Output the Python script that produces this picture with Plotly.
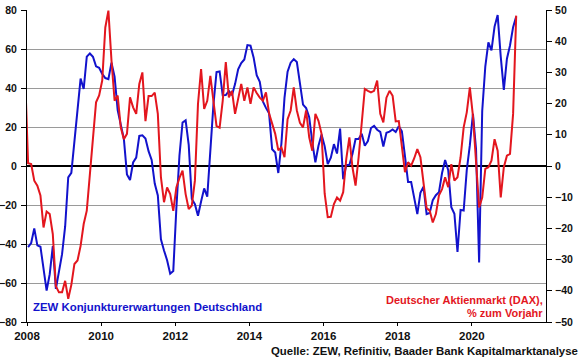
import numpy as np
import plotly.graph_objects as go

# ZEW Konjunkturerwartungen Deutschland, monthly Jan 2008 .. Mar 2021 (left axis)
zew = [
    -41.6, -39.5, -32.0, -40.7, -41.4, -52.4, -63.9, -55.5, -41.1, -63.0, -53.5, -45.2,
    -31.0, -5.8, -3.5, 13.0, 31.1, 44.8, 39.5, 56.1, 57.7, 56.0, 51.1, 50.4,
    47.2, 45.1, 44.5, 53.0, 45.8, 28.7, 21.2, 14.0, -4.3, -7.2, 1.8, 4.3,
    15.4, 15.7, 14.1, 7.6, 3.1, -9.0, -15.1, -37.6, -43.3, -48.3, -55.2, -53.8,
    -21.6, 5.4, 22.3, 23.4, 10.8, -16.9, -19.6, -25.5, -18.2, -11.5, -15.7, 6.9,
    31.5, 48.2, 48.5, 36.3, 36.4, 38.5, 36.3, 42.0, 49.6, 52.8, 54.6, 62.0,
    61.7, 55.7, 46.6, 43.2, 33.1, 29.8, 27.1, 8.6, 6.9, -3.6, 11.5, 34.9,
    48.4, 53.0, 54.8, 53.3, 41.9, 31.5, 29.7, 25.0, 12.1, 1.9, 10.4, 16.1,
    10.2, 1.0, 4.3, 11.2, 6.4, 19.2, -6.8, 0.5, 0.5, 6.2, 13.8, 13.8,
    16.6, 10.4, 12.8, 19.5, 20.6, 18.6, 17.5, 10.0, 17.0, 17.6, 18.7, 17.4,
    20.4, 17.8, 5.1, -8.2, -8.2, -16.1, -24.7, -13.7, -10.6, -24.7, -24.1, -17.5,
    -15.0, -13.4, -3.6, 3.1, -2.1, -21.1, -24.5, -44.1, -22.5, -22.8, -2.1, 10.7,
    26.7, 8.7, -49.5, 28.2, 51.0, 63.4, 59.3, 71.5, 77.4, 56.1, 39.0, 55.0,
    61.8, 71.2, 76.6,
]

# Deutscher Aktienmarkt (DAX), % zum Vorjahr, monthly Dec 2007 .. Mar 2021 (right axis)
dax = [
    30.0,
    0.9, 0.6, -4.7, -6.3, -9.4, -19.7, -14.6, -15.4, -21.8, -38.5, -40.5, -40.5,
    -36.8, -42.6, -38.1, -31.4, -30.3, -25.6, -18.6, -14.3, -2.6, 8.1, 20.4, 22.6,
    27.4, 44.4, 49.8, 33.8, 20.9, 22.6, 12.4, 8.6, 10.3, 22.0, 18.8, 16.7,
    26.3, 30.0, 14.4, 22.4, 22.4, 23.5, 16.7, -3.6, -11.6, -6.9, -9.0, -14.4,
    -6.9, -3.8, -1.5, -9.0, -13.8, -12.7, -4.7, 19.9, 31.1, 18.3, 20.9, 28.9,
    20.6, 12.8, 12.3, 20.9, 33.3, 22.0, 24.1, 16.7, 21.5, 26.3, 20.9, 25.2,
    19.9, 25.2, 23.4, 21.9, 20.9, 23.6, 16.9, 13.8, 10.3, 5.0, 6.0, 2.8,
    15.0, 17.8, 25.2, 17.8, 13.8, 12.4, 17.8, 9.2, 4.9, 16.7, 14.5, 10.3,
    -8.8, -16.4, -16.3, -12.2, -10.1, -11.1, -8.4, 2.3, 9.2, -0.4, -6.3, 2.8,
    14.5, 24.7, 24.1, 23.6, 24.1, 27.4, 16.7, 14.0, 21.9, 24.1, 22.5, 14.3,
    14.4, 7.1, -2.0, 1.2, 0.1, 2.5, 5.4, 2.8, -5.3, -13.5, -14.3, -18.1,
    -15.4, -9.4, -7.4, -3.6, -6.8, 0.6, -4.7, -3.6, 2.8, 12.4, 17.2, 25.2,
    16.1, -0.4, -13.3, -10.1, -0.9, -0.4, 1.7, 8.6, 4.9, -10.1, -0.4, 3.3,
    3.9, 16.7, 48.2,
]

year_ticks = [2008, 2010, 2012, 2014, 2016, 2018, 2020]
left_ticks = list(range(-80, 81, 20))
right_ticks = list(range(-50, 51, 10))

# month positions (fractional years)
x_zew = 2008 + (np.arange(len(zew)) + 0.35) / 12.0
x_dax = 2008 + (np.arange(len(dax)) - 1 + 0.35) / 12.0

BLUE = "#1212cc"
RED = "#e3161e"
FONT = "Liberation Sans"

fig = go.Figure()
fig.add_trace(go.Scatter(x=x_zew, y=zew, mode="lines",
                         line=dict(color=BLUE, width=2), yaxis="y",
                         name="ZEW Konjunkturerwartungen Deutschland"))
fig.add_trace(go.Scatter(x=x_dax, y=dax, mode="lines",
                         line=dict(color=RED, width=2), yaxis="y2",
                         name="Deutscher Aktienmarkt (DAX), % zum Vorjahr"))

ytickfont = dict(family=FONT, size=10.5, color="#111111", weight="bold")
xtickfont = dict(family=FONT, size=11.5, color="#111111", weight="bold")

fig.update_layout(
    width=580, height=359,
    margin=dict(l=27, r=34, t=10, b=37),
    paper_bgcolor="white", plot_bgcolor="white",
    showlegend=False,
    xaxis=dict(range=[2008, 2022], tickvals=year_ticks,
               ticktext=[str(v) for v in year_ticks],
               showgrid=False, zeroline=False, automargin=False,
               showline=True, linecolor="black", linewidth=1,
               ticks="outside", ticklen=3, tickcolor="black",
               ticklabelstandoff=0, tickfont=xtickfont),
    yaxis=dict(range=[-80, 80], tickvals=left_ticks, automargin=False,
               showgrid=True, gridcolor="#9a9a9a", gridwidth=1,
               zeroline=True, zerolinecolor="black", zerolinewidth=2,
               showline=True, linecolor="black", linewidth=1,
               ticks="outside", ticklen=5, tickcolor="black",
               ticklabelstandoff=2, tickfont=ytickfont),
    yaxis2=dict(range=[-50, 50], tickvals=right_ticks, overlaying="y",
                side="right", showgrid=False, zeroline=False, automargin=False,
                showline=True, linecolor="black", linewidth=1,
                ticks="outside", ticklen=5, tickcolor="black",
                ticklabelstandoff=1, tickfont=ytickfont),
)

def px_x(px):
    return (px - 27) / 519.0

def px_y(py):
    return (322 - py) / 312.0

fig.add_annotation(x=px_x(31), y=px_y(307), xref="paper", yref="paper",
                   text="ZEW Konjunkturerwartungen Deutschland",
                   showarrow=False, xanchor="left", yanchor="middle",
                   font=dict(family=FONT, size=11.4, color=BLUE, weight="bold"))
fig.add_annotation(x=px_x(545), y=px_y(300), xref="paper", yref="paper",
                   text="Deutscher Aktienmarkt (DAX),",
                   showarrow=False, xanchor="right", yanchor="middle",
                   font=dict(family=FONT, size=11, color=RED, weight="bold"))
fig.add_annotation(x=px_x(545), y=px_y(313), xref="paper", yref="paper",
                   text="% zum Vorjahr",
                   showarrow=False, xanchor="right", yanchor="middle",
                   font=dict(family=FONT, size=11, color=RED, weight="bold"))
fig.add_annotation(x=px_x(580), y=px_y(351), xref="paper", yref="paper",
                   text="Quelle: ZEW, Refinitiv, Baader Bank Kapitalmarktanalyse",
                   showarrow=False, xanchor="right", yanchor="middle",
                   font=dict(family=FONT, size=11.4, color="#111111", weight="bold"))

fig.write_html("out.html",
               config={"displayModeBar": False},
               post_script="document.body.style.margin='0';"
                           "document.body.style.overflow='hidden';")
